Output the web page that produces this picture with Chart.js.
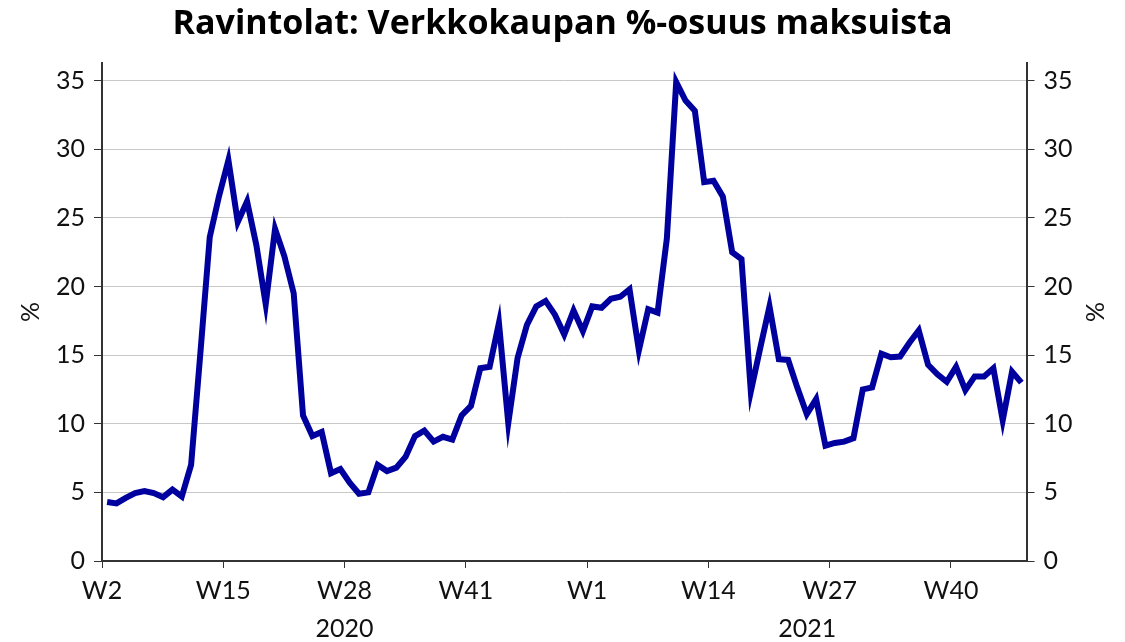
<!DOCTYPE html>
<html>
<head>
<meta charset="utf-8">
<script src="https://cdn.jsdelivr.net/npm/chart.js@4/dist/chart.umd.min.js"></script>
<style>
  body { margin: 0; background: #fff; }
  #wrap { width: 1125px; height: 642px; }
</style>
</head>
<body>
<div id="wrap"><canvas id="chart" width="1125" height="642"></canvas></div>
<script>
// weekly share (%) from 2020 W2 to 2021 W47
const shareValues = [
  4.3, 4.2, 4.6, 4.95, 5.1, 4.95, 4.65, 5.2, 4.7, 7.0,
  15.2, 23.6, 26.6, 29.2, 24.7, 26.2, 23.0, 18.7, 24.2, 22.2,
  19.5, 10.6, 9.1, 9.4, 6.4, 6.7, 5.7, 4.9, 5.0, 7.0,
  6.55, 6.8, 7.6, 9.1, 9.5, 8.7, 9.05, 8.85, 10.6, 11.3,
  14.05, 14.15, 17.35, 10.05, 14.8, 17.2, 18.55, 18.95, 17.95, 16.5,
  18.25, 16.75, 18.55, 18.45, 19.1, 19.25, 19.8, 15.35, 18.35, 18.1,
  23.5, 34.9, 33.55, 32.8, 27.6, 27.7, 26.55, 22.5, 22.0, 12.35,
  15.5, 18.55, 14.7, 14.65, 12.6, 10.7, 11.8, 8.4, 8.6, 8.7,
  8.95, 12.5, 12.65, 15.1, 14.85, 14.9, 15.9, 16.8, 14.3, 13.6,
  13.05, 14.15, 12.45, 13.45, 13.45, 14.05, 10.25, 13.8, 13.0
];
const tickWeeks = ['W2', 'W15', 'W28', 'W41', 'W1', 'W14', 'W27', 'W40'];
const tickIndex = [0, 13, 26, 39, 52, 65, 78, 91];
const yTicks = [0, 5, 10, 15, 20, 25, 30, 35];
const yearLabels = ['2020', '2021'];
const yearIndex = [26, 75.6];

const pointOffset = 0.55; // points sit mid-week, ticks at week start
const points = shareValues.map((v, i) => ({ x: i + pointOffset, y: v }));

const FONT = 'Lato, "Open Sans", sans-serif';
const axisColor = '#333';

// second row of x labels (years)
const yearPlugin = {
  id: 'years',
  afterDraw(chart) {
    const ctx = chart.ctx;
    const xs = chart.scales.x;
    ctx.save();
    ctx.font = '25px ' + FONT;
    ctx.fillStyle = '#111';
    ctx.textAlign = 'center';
    ctx.textBaseline = 'middle';
    for (let i = 0; i < yearLabels.length; i++) {
      ctx.fillText(yearLabels[i], xs.getPixelForValue(yearIndex[i]), 629);
    }
    ctx.restore();
  }
};

function yAxis(pos) {
  return {
    position: pos,
    min: 0,
    max: 36.3,
    afterBuildTicks: s => { s.ticks = yTicks.map(v => ({ value: v })); },
    afterFit: s => { s.width = pos === 'left' ? 102 : 98.5; },
    ticks: { color: '#111', padding: 9, font: { family: FONT, size: 25 } },
    grid: {
      display: true,
      drawOnChartArea: pos === 'left',
      color: '#c8c8c8',
      lineWidth: 1,
      tickColor: axisColor,
      tickLength: 8
    },
    border: { color: axisColor, width: 2 },
    title: { display: true, text: '%', color: '#111', padding: { top: 16 }, font: { family: FONT, size: 25 } }
  };
}

new Chart(document.getElementById('chart'), {
  type: 'line',
  data: {
    datasets: [{
      label: 'Verkkokaupan osuus',
      data: points,
      borderColor: '#00009e',
      borderWidth: 6,
      pointRadius: 0,
      tension: 0,
      fill: false
    }]
  },
  options: {
    responsive: false,
    animation: false,
    layout: { padding: 0 },
    plugins: {
      legend: { display: false },
      tooltip: { enabled: false },
      title: {
        display: true,
        text: 'Ravintolat: Verkkokaupan %-osuus maksuista',
        color: '#000',
        font: { family: '"Open Sans", sans-serif', size: 34, weight: 'bold' },
        padding: { top: 4, bottom: 18 }
      }
    },
    scales: {
      x: {
        type: 'linear',
        min: 0,
        max: 99.1,
        afterBuildTicks: s => { s.ticks = tickIndex.map(v => ({ value: v })); },
        afterFit: s => { s.height = 81; },
        ticks: {
          autoSkip: false,
          maxRotation: 0,
          color: '#111',
          padding: 8,
          font: { family: FONT, size: 25 },
          callback: v => tickWeeks[tickIndex.indexOf(v)]
        },
        grid: { drawOnChartArea: false, tickColor: axisColor, tickLength: 7 },
        border: { color: axisColor, width: 2 }
      },
      y: yAxis('left'),
      y2: yAxis('right')
    }
  },
  plugins: [yearPlugin]
});
</script>
</body>
</html>
